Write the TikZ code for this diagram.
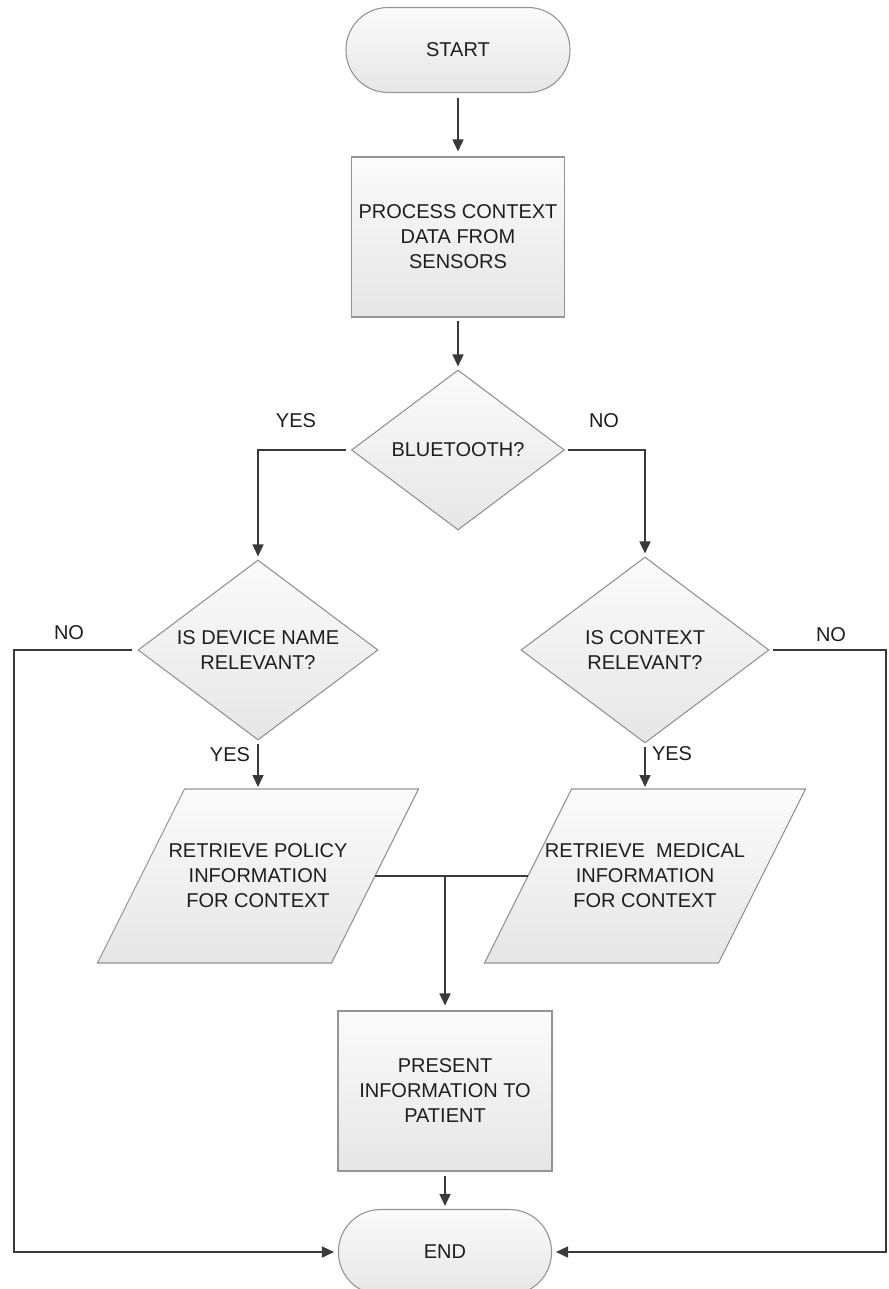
\documentclass[tikz,border=0pt]{standalone}
\usepackage{fontspec}
\setmainfont{Liberation Sans}
\usetikzlibrary{shapes.geometric,arrows.meta}
\definecolor{lin}{HTML}{3A3A3A}
\definecolor{bord}{HTML}{959595}
\definecolor{txt}{HTML}{1E1E1E}
\definecolor{filltop}{HTML}{FBFBFB}
\definecolor{fillbot}{HTML}{E6E6E6}
\tikzset{
  shapefill/.style={draw=bord, line width=1.1pt, top color=filltop, bottom color=fillbot},
  base/.style={shapefill, text=txt, align=center, inner sep=0pt, font=\fontsize{20}{25}\selectfont},
  terminal/.style={base, rectangle, rounded corners=42pt},
  procbox/.style={base, rectangle},
  decision/.style={base, diamond, aspect=1.33},
  iotext/.style={text=txt, align=center, inner sep=0pt, font=\fontsize{20}{25}\selectfont},
  conn/.style={draw=lin, line width=1.6pt},
  arrow/.style={conn, -{Triangle[length=12pt,width=11pt]}},
  lbl/.style={text=txt, inner sep=0pt, font=\fontsize{20}{25}\selectfont}
}
\begin{document}
\begin{tikzpicture}[x=1pt,y=-1pt]
\clip (0,0) rectangle (888,1289);
\fill[white] (0,0) rectangle (888,1289);

% parallelogram outlines (input/output shapes)
\path[shapefill] (184.5,789) -- (418.5,789) -- (331.5,963) -- (97.5,963) -- cycle;
\path[shapefill] (571.5,789) -- (805.5,789) -- (718.5,963) -- (484.5,963) -- cycle;
\coordinate (pol-top) at (258,789);
\coordinate (pol-right) at (375,876);
\coordinate (med-top) at (645,789);
\coordinate (med-left) at (528,876);

\node[terminal, minimum width=224pt, minimum height=85pt] (start) at (458,50) {START};
\node[procbox, minimum width=213pt, minimum height=160pt] (proc) at (458,237) {PROCESS CONTEXT\\DATA FROM\\SENSORS};
\node[decision, minimum width=213pt, minimum height=160pt] (blue) at (458,450) {BLUETOOTH?};
\node[decision, minimum width=240pt, minimum height=180pt] (dev) at (258,650) {IS DEVICE NAME\\RELEVANT?};
\node[decision, minimum width=248pt, minimum height=186pt] (ctx) at (645,650) {IS CONTEXT\\RELEVANT?};
\node[iotext] (pol) at (258,876) {RETRIEVE POLICY\\INFORMATION\\FOR CONTEXT};
\node[iotext] (med) at (645,876) {RETRIEVE\ \ MEDICAL\\INFORMATION\\FOR CONTEXT};
\node[procbox, minimum width=214pt, minimum height=160pt] (pres) at (445,1091) {PRESENT\\INFORMATION TO\\PATIENT};
\node[terminal, minimum width=213pt, minimum height=85pt] (end) at (445,1252) {END};

\coordinate (lcorner) at (14,650);
\coordinate (rcorner) at (886,650);
\coordinate (join) at (pol-right -| pres.north);

\draw[arrow, shorten <=5pt, shorten >=5pt] (start.south) -- (proc.north);
\draw[arrow, shorten <=3pt, shorten >=3pt] (proc.south) -- (blue.north);
\draw[arrow, shorten <=5pt, shorten >=3pt] (blue.west) -| (dev.north);
\draw[arrow, shorten <=3pt, shorten >=3pt] (blue.east) -| (ctx.north);
\draw[arrow, shorten <=3pt, shorten >=2pt] (dev.south) -- (pol-top);
\draw[arrow, shorten <=3pt, shorten >=2pt] (ctx.south) -- (med-top);
\draw[arrow, shorten <=5pt, shorten >=4pt] (dev.west) -- (lcorner) |- (end.west);
\draw[arrow, shorten <=3pt, shorten >=4pt] (ctx.east) -- (rcorner) |- (end.east);
\draw[conn] (pol-right) -- (med-left);
\draw[arrow, shorten >=5pt] (join) -- (pres.north);
\draw[arrow, shorten <=4pt, shorten >=3pt] (pres.south) -- (end.north);

\node[lbl] (lyes1) at (296,421) {YES};
\node[lbl] (lno1) at (604,421) {NO};
\node[lbl] (lno2) at (69,633) {NO};
\node[lbl] (lno3) at (831,635) {NO};
\node[lbl] (lyes2) at (230,755) {YES};
\node[lbl] (lyes3) at (672,754) {YES};
\end{tikzpicture}
\end{document}
